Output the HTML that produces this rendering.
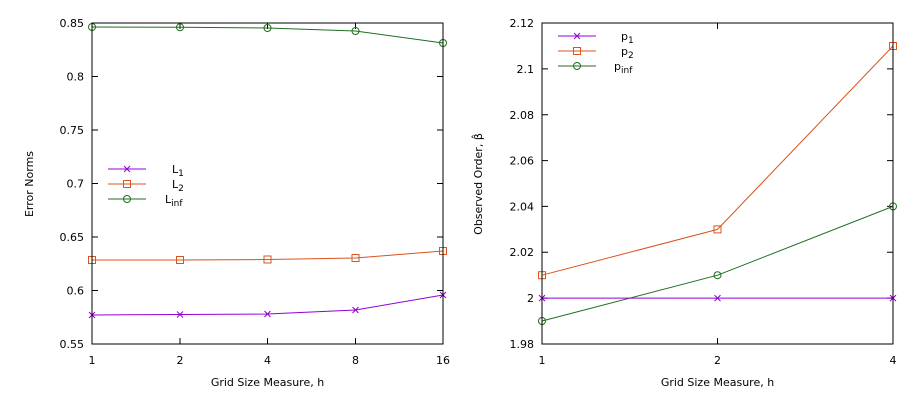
<!DOCTYPE html>
<html><head><style>body{margin:0;background:#fff}</style></head><body>
<svg width="920" height="400" xmlns="http://www.w3.org/2000/svg" font-family="DejaVu Sans, Liberation Sans, sans-serif" font-size="11">
<rect width="920" height="400" fill="#fff"/>
<defs>
<path id="cx" d="M-3,-3L3,3M-3,3L3,-3" stroke="#9400d3" stroke-width="1"/>
<rect id="sq" x="-3.5" y="-3.5" width="7" height="7" fill="none" stroke="#d9541e" stroke-width="1"/>
<circle id="ci" r="3.5" fill="none" stroke="#1f6e1f" stroke-width="1"/>
</defs>
<!-- LEFT -->
<g stroke="#000" stroke-width="1">
<path d="M92,76.5h6M92,130h6M92,183.5h6M92,237h6M92,290.5h6M443,76.5h-6M443,130h-6M443,183.5h-6M443,237h-6M443,290.5h-6M180,344v-6M267.5,344v-6M355.5,344v-6M180,23v6M267.5,23v6M355.5,23v6"/>
</g>
<g text-anchor="end" fill="#000">
<text x="84" y="27">0.85</text><text x="84" y="80.5">0.8</text><text x="84" y="134">0.75</text><text x="84" y="187.5">0.7</text><text x="84" y="241">0.65</text><text x="84" y="294.5">0.6</text><text x="84" y="348">0.55</text>
</g>
<g text-anchor="middle"><text x="92" y="364">1</text><text x="180" y="364">2</text><text x="267.5" y="364">4</text><text x="355.5" y="364">8</text><text x="443" y="364">16</text>
<text x="267.5" y="386">Grid Size Measure, h</text></g>
<text transform="translate(33,184) rotate(-90)" text-anchor="middle">Error Norms</text>
<polyline fill="none" stroke="#1f6e1f" points="92,27 180,27.3 267.5,28 355.5,31 443,43"/>
<polyline fill="none" stroke="#d9541e" points="92,260 180,260 267.5,259.5 355.5,258 443,251"/>
<polyline fill="none" stroke="#9400d3" points="92,315 180,314.5 267.5,314 355.5,310 443,295"/>
<use href="#ci" x="92" y="27"/><use href="#ci" x="180" y="27.3"/><use href="#ci" x="267.5" y="28"/><use href="#ci" x="355.5" y="31"/><use href="#ci" x="443" y="43"/>
<use href="#sq" x="92" y="260"/><use href="#sq" x="180" y="260"/><use href="#sq" x="267.5" y="259.5"/><use href="#sq" x="355.5" y="258"/><use href="#sq" x="443" y="251"/>
<use href="#cx" x="92" y="315"/><use href="#cx" x="180" y="314.5"/><use href="#cx" x="267.5" y="314"/><use href="#cx" x="355.5" y="310"/><use href="#cx" x="443" y="295"/>
<path d="M108,169h38" stroke="#9400d3"/><use href="#cx" x="127" y="169"/>
<path d="M108,184h38" stroke="#d9541e"/><use href="#sq" x="127" y="184"/>
<path d="M108,199h38" stroke="#1f6e1f"/><use href="#ci" x="127" y="199"/>
<text x="172" y="173">L<tspan font-size="9" dy="3">1</tspan></text>
<text x="172" y="188">L<tspan font-size="9" dy="3">2</tspan></text>
<text x="165" y="203">L<tspan font-size="9" dy="3">inf</tspan></text>
<rect x="92" y="23" width="351" height="321" fill="none" stroke="#000" stroke-width="1"/>
<!-- RIGHT -->
<g stroke="#000" stroke-width="1">
<path d="M542,68.9h6M542,114.7h6M542,160.6h6M542,206.4h6M542,252.3h6M542,298.1h6M893,68.9h-6M893,114.7h-6M893,160.6h-6M893,206.4h-6M893,252.3h-6M893,298.1h-6M717.5,344v-6M717.5,23v6"/>
</g>
<g text-anchor="end">
<text x="534" y="27">2.12</text><text x="534" y="73">2.1</text><text x="534" y="119">2.08</text><text x="534" y="164.5">2.06</text><text x="534" y="210.5">2.04</text><text x="534" y="256">2.02</text><text x="534" y="302">2</text><text x="534" y="348">1.98</text>
</g>
<g text-anchor="middle"><text x="542" y="364">1</text><text x="717.5" y="364">2</text><text x="893" y="364">4</text>
<text x="717.5" y="386">Grid Size Measure, h</text></g>
<text transform="translate(482,184) rotate(-90)" text-anchor="middle">Observed Order, β̂</text>
<polyline fill="none" stroke="#d9541e" points="542,275.2 717.5,229.4 893,46"/>
<polyline fill="none" stroke="#1f6e1f" points="542,321 717.5,275.2 893,206.4"/>
<polyline fill="none" stroke="#9400d3" points="542,298.1 893,298.1"/>
<use href="#sq" x="542" y="275.2"/><use href="#sq" x="717.5" y="229.4"/><use href="#sq" x="893" y="46"/>
<use href="#ci" x="542" y="321"/><use href="#ci" x="717.5" y="275.2"/><use href="#ci" x="893" y="206.4"/>
<use href="#cx" x="542" y="298.1"/><use href="#cx" x="717.5" y="298.1"/><use href="#cx" x="893" y="298.1"/>
<path d="M558,36h38" stroke="#9400d3"/><use href="#cx" x="577" y="36"/>
<path d="M558,51h38" stroke="#d9541e"/><use href="#sq" x="577" y="51"/>
<path d="M558,66h38" stroke="#1f6e1f"/><use href="#ci" x="577" y="66"/>
<text x="621" y="40">p<tspan font-size="9" dy="3">1</tspan></text>
<text x="621" y="55">p<tspan font-size="9" dy="3">2</tspan></text>
<text x="614" y="70">p<tspan font-size="9" dy="3">inf</tspan></text>
<rect x="542" y="23" width="351" height="321" fill="none" stroke="#000" stroke-width="1"/>
</svg>
</body></html>
